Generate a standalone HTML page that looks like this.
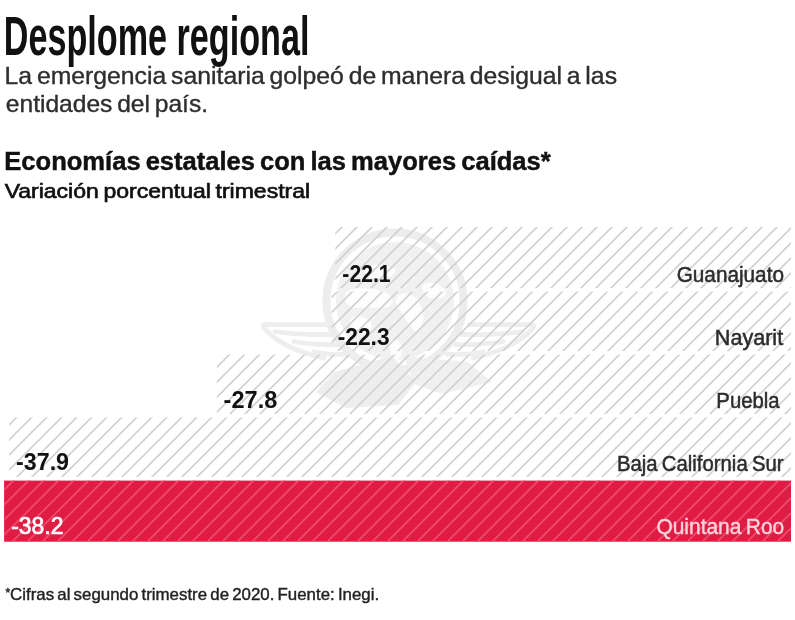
<!DOCTYPE html>
<html><head><meta charset="utf-8">
<style>
html,body{margin:0;padding:0;background:#fff;}
body{width:795px;height:620px;overflow:hidden;}
svg{display:block;font-family:"Liberation Sans",sans-serif;will-change:transform;}
text{white-space:pre;}
</style></head><body>
<svg width="795" height="620" viewBox="0 0 795 620">
<defs>
<pattern id="h" width="15" height="15" patternUnits="userSpaceOnUse">
<path d="M-1,15 L15,-1 M13,16 L16,13" stroke="#d1d1d1" stroke-width="1.6" fill="none"/>
</pattern>
<pattern id="hr" width="15" height="15" patternUnits="userSpaceOnUse">
<path d="M-1,15 L15,-1 M13,16 L16,13" stroke="#f14a6b" stroke-width="1.6" fill="none"/>
</pattern>
</defs>
<g id="wm">
<circle cx="395" cy="301" r="68.6" fill="none" stroke="#ededed" stroke-width="8"/>
<circle cx="395" cy="301" r="59" fill="#f1f1f1"/>
<g fill="#fdfdfd">
<path d="M346,292 C356,286 372,288 384,292 C392,296 396,302 390,306 C380,310 366,306 356,308 C348,308 342,300 346,292 Z"/>
<path d="M398,296 C406,290 416,296 420,304 C426,314 424,326 416,332 C410,326 404,318 400,310 C396,304 394,300 398,296 Z"/>
<path d="M424,284 C432,280 442,284 446,292 C446,298 438,300 430,298 C424,296 420,288 424,284 Z"/>
<path d="M390,340 C396,338 402,342 402,350 C402,358 398,362 394,360 C390,354 388,346 390,340 Z"/>
<path d="M352,318 C360,314 370,318 372,326 C370,334 360,336 354,330 C350,326 348,322 352,318 Z"/>
<path d="M366,268 C376,262 390,264 396,270 C394,278 382,280 372,278 C366,276 362,272 366,268 Z"/>
</g>
<g id="wingL" fill="none" stroke="#eeeeee" stroke-width="4.8" stroke-linecap="round">
<path d="M328,324.6 H266 C262.5,324.6 262.5,327 266,330.5 C280,344 300,353 324,358"/>
<path d="M336,334.4 C310,335 290,334 275,331.5"/>
<path d="M342,344.4 C322,345 306,344 294,341.5"/>
<path d="M350,354.2 C338,354.8 324,354 314,351.8"/>
</g>
<g id="wingR" fill="none" stroke="#eeeeee" stroke-width="4.8" stroke-linecap="round" transform="translate(797,0) scale(-1,1)">
<path d="M328,324.6 H266 C262.5,324.6 262.5,327 266,330.5 C280,344 300,353 324,358"/>
<path d="M336,334.4 C310,335 290,334 275,331.5"/>
<path d="M342,344.4 C322,345 306,344 294,341.5"/>
<path d="M350,354.2 C338,354.8 324,354 314,351.8"/>
</g>
<path d="M392,356 L334,372 L316,392 L346,408 L398,405 L416,382 Z" fill="#eeeeee"/>
<path d="M404,356 L468,362 L492,382 L442,394 L414,384 Z" fill="#f0f0f0"/>
</g>

<g>
<rect x="335.3" y="227" width="455.7" height="61.15" fill="url(#h)"/>
<rect x="331.6" y="291.65" width="459.4" height="59.40" fill="url(#h)"/>
<rect x="216.8" y="354.55" width="574.2" height="59.40" fill="url(#h)"/>
<rect x="9.2" y="417.45" width="781.8" height="59.40" fill="url(#h)"/>
</g>
<rect x="4.1" y="480.6" width="786.9" height="61.1" fill="#e01c45"/>
<rect x="4.1" y="480.6" width="786.9" height="61.1" fill="url(#hr)"/>
<g id="title">
<text transform="translate(3.8,54.8) scale(0.61,1)" text-anchor="start" style="font-size:56px;font-weight:bold;fill:#111;">Desplome regional</text>
</g>

<text transform="translate(4.54,84.3) scale(1.041,1)" text-anchor="start" style="font-size:23.8px;font-weight:normal;fill:#2e2e2e;word-spacing:-2px;stroke:#2e2e2e;stroke-width:0.38px;" id="sub1">La emergencia sanitaria golpeó de manera desigual a las</text>
<text transform="translate(5.78,112.2) scale(1.0339,1)" text-anchor="start" style="font-size:23.8px;font-weight:normal;fill:#2e2e2e;word-spacing:-2px;stroke:#2e2e2e;stroke-width:0.38px;" id="sub2">entidades del país.</text>
<text transform="translate(4.3,170.0) scale(1.0226,1)" text-anchor="start" style="font-size:25px;font-weight:bold;fill:#111;word-spacing:-2px;stroke:#111;stroke-width:0.45px;" id="h2">Economías estatales con las mayores caídas*</text>
<text transform="translate(4.63,197.7) scale(1.1507,1)" text-anchor="start" style="font-size:20px;font-weight:normal;fill:#111;word-spacing:-1.5px;stroke:#111;stroke-width:0.65px;" id="h3">Variación porcentual trimestral</text>
<text transform="translate(5.4,600.0) scale(1.0041,1)" text-anchor="start" style="font-size:16.8px;font-weight:normal;fill:#222;word-spacing:-1.5px;stroke:#222;stroke-width:0.4px;" id="foot"><tspan style="font-size:12px" dy="-3.2">*</tspan><tspan dy="3.2">Cifras al segundo trimestre de 2020. Fuente: Inegi.</tspan></text>
<text transform="translate(342.35,281.8) scale(0.896,1)" text-anchor="start" style="font-size:23.6px;font-weight:bold;fill:#111;" id="v1">-22.1</text>
<text transform="translate(337.72,344.6) scale(0.9641,1)" text-anchor="start" style="font-size:23.6px;font-weight:bold;fill:#111;" id="v2">-22.3</text>
<text transform="translate(223.62,407.5) scale(0.9977,1)" text-anchor="start" style="font-size:23.6px;font-weight:bold;fill:#111;" id="v3">-27.8</text>
<text transform="translate(16.11,470.4) scale(0.9837,1)" text-anchor="start" style="font-size:23.6px;font-weight:bold;fill:#111;" id="v4">-37.9</text>
<text transform="translate(11.2,534.3) scale(0.9722,1)" text-anchor="start" style="font-size:23.6px;font-weight:normal;fill:#fff;stroke:#fff;stroke-width:0.7px;" id="v5">-38.2</text>
<text transform="translate(783.96,282.1) scale(0.9308,1)" text-anchor="end" style="font-size:22.3px;font-weight:normal;fill:#2c2c2c;word-spacing:-1.5px;stroke:#2c2c2c;stroke-width:0.5px;" id="n1">Guanajuato</text>
<text transform="translate(783.18,344.9) scale(0.9688,1)" text-anchor="end" style="font-size:22.3px;font-weight:normal;fill:#2c2c2c;word-spacing:-1.5px;stroke:#2c2c2c;stroke-width:0.5px;" id="n2">Nayarit</text>
<text transform="translate(779.67,407.7) scale(0.9122,1)" text-anchor="end" style="font-size:22.3px;font-weight:normal;fill:#2c2c2c;word-spacing:-1.5px;stroke:#2c2c2c;stroke-width:0.5px;" id="n3">Puebla</text>
<text transform="translate(783.58,470.6) scale(0.9115,1)" text-anchor="end" style="font-size:22.3px;font-weight:normal;fill:#2c2c2c;word-spacing:-1.5px;stroke:#2c2c2c;stroke-width:0.5px;" id="n4">Baja California Sur</text>
<text transform="translate(784.24,534.4) scale(0.9395,1)" text-anchor="end" style="font-size:22.3px;font-weight:normal;fill:#fad6dc;word-spacing:-1.5px;stroke:#fad6dc;stroke-width:0.35px;" id="n5">Quintana Roo</text>
</svg>
</body></html>
